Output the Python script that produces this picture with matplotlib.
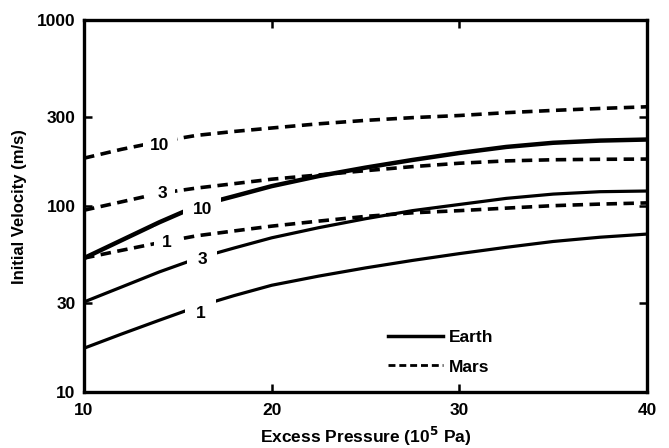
import numpy as np
import matplotlib
matplotlib.use('Agg')
import matplotlib.pyplot as plt

FONT = 'Liberation Sans'
FS = 12.5

# excess pressure (10^5 Pa)
pressure = [10, 12, 14, 16, 18, 20, 22.5, 25, 27.5, 30, 32.5, 35, 37.5, 40]

# initial velocity (m/s), curves labelled 1, 3, 10
earth_1 = [17.2, 20.5, 24.3, 28.7, 33, 37.5, 42, 46.5, 51, 55.5, 60, 64.5, 68, 70.7]
earth_3 = [30.5, 36.7, 44.2, 52.2, 59.5, 67.5, 76.5, 85.5, 94.5, 102, 110, 116, 119.5, 120.5]
earth_10 = [52.5, 65.5, 81.7, 100, 113, 128, 145, 161, 177, 193, 208, 219, 225, 228]
mars_1 = [52.5, 57.8, 63.5, 69.2, 73.5, 78, 83, 88, 92, 94.5, 97.5, 100.5, 102.5, 104]
mars_3 = [95, 105.4, 117, 125, 132, 139.5, 147, 155, 163, 170, 175, 177.5, 178.5, 179]
mars_10 = [181, 202, 222, 240, 252, 263, 277, 289, 299, 307, 318, 327, 335, 342]

curve_names = ['1', '3', '10']
earth_lbl_x = [16.2, 16.3, 16.3]
earth_lbl_y = [26.6, 51.3, 96.2]
mars_lbl_x = [14.4, 14.2, 14.05]
mars_lbl_y = [64, 117, 213]

plt.rcParams['font.family'] = FONT
plt.rcParams['font.weight'] = 'bold'

fig = plt.figure(figsize=(6.69, 4.48), dpi=100)
ax = fig.add_axes([0.1256, 0.125, 0.8414, 0.83])

lw_e = [2.3, 2.3, 3.2]
for ys, lw in zip([earth_1, earth_3, earth_10], lw_e):
    ax.plot(pressure, ys, color='black', lw=lw, solid_capstyle='butt')
for ys in [mars_1, mars_3, mars_10]:
    ax.plot(pressure, ys, color='black', lw=2.6, ls=(0, (2.9, 1.8)))

# legend proxies
ax.plot([], [], color='black', lw=2.5, label='Earth')
ax.plot([], [], color='black', lw=2.0, ls=(0, (2.5, 1.4)), label='Mars')

# white boxes behind the labels leave the gaps in the curves
earth_pad = [7.5, 7.5, 6.7]
for nm, x, y, p in zip(curve_names, earth_lbl_x, earth_lbl_y, earth_pad):
    ax.text(x, y, nm, ha='center', va='center', fontsize=FS, fontweight='bold',
            bbox=dict(facecolor='white', edgecolor='none', pad=p))
for nm, x, y in zip(curve_names, mars_lbl_x, mars_lbl_y):
    ax.text(x, y, nm, ha='center', va='center', fontsize=FS, fontweight='bold',
            bbox=dict(facecolor='white', edgecolor='none', pad=5.5))

ax.set_yscale('log')
ax.set_xlim(10, 40)
ax.set_ylim(10, 1000)
ax.set_xticks([10, 20, 30, 40])
ax.set_xticklabels(['10', '20', '30', '40'])
ax.set_yticks([10, 30, 100, 300, 1000])
ax.set_yticklabels(['10', '30', '100', '300', '1000'])
ax.minorticks_off()
ax.tick_params(direction='in', top=True, right=True, length=6, width=1.8,
               labelsize=FS)
ax.tick_params(axis='x', pad=8)
ax.tick_params(axis='y', pad=6)
for t in ax.get_xticklabels() + ax.get_yticklabels():
    t.set_fontweight('bold')
for s in ax.spines.values():
    s.set_linewidth(2.4)

ax.set_xlabel('Excess Pressure (10$^{\\mathbf{5}}$ Pa)', fontsize=FS, fontweight='bold', labelpad=5)
ax.set_ylabel('Initial Velocity (m/s)', fontsize=12, fontweight='bold', labelpad=7)

leg = ax.legend(loc='lower left', bbox_to_anchor=(0.512, 0.005), frameon=False,
                handlelength=3.2, handletextpad=0.3, labelspacing=0.85,
                prop={'family': FONT, 'weight': 'bold', 'size': FS})

plt.savefig('out.png', dpi=100)
